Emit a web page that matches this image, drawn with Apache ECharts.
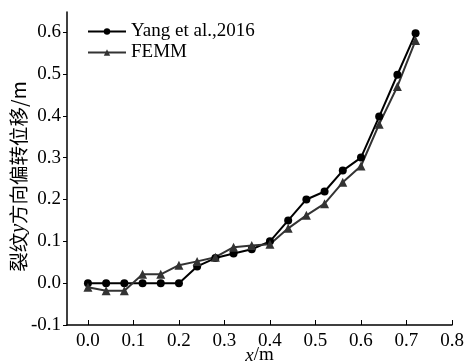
<!DOCTYPE html>
<html><head><meta charset="utf-8">
<script src="https://cdn.jsdelivr.net/npm/echarts@6/dist/echarts.min.js"></script>
<style>html,body{margin:0;padding:0;background:#fff}#c{width:466px;height:364px}</style>
</head><body><div id="c"></div>
<script>
const xValues = [0, 0.04, 0.08, 0.12, 0.16, 0.2, 0.24, 0.28, 0.32, 0.36, 0.4, 0.44, 0.48, 0.52, 0.56, 0.6, 0.64, 0.68, 0.72];
const yangValues = [0, 0, 0, 0, 0, 0, 0.04, 0.06, 0.071, 0.081, 0.1, 0.15, 0.2, 0.219, 0.269, 0.3, 0.398, 0.498, 0.597];
const femmValues = [-0.01, -0.018, -0.018, 0.021, 0.021, 0.043, 0.052, 0.062, 0.086, 0.09, 0.093, 0.131, 0.162, 0.19, 0.241, 0.28, 0.38, 0.47, 0.58];
const xTicks = [0, 0.1, 0.2, 0.3, 0.4, 0.5, 0.6, 0.7, 0.8];
const yTicks = [-0.1, 0, 0.1, 0.2, 0.3, 0.4, 0.5, 0.6];
const seriesNames = ['Yang et al.,2016', 'FEMM'];

const serif = 'Liberation Serif';
const chart = echarts.init(document.getElementById('c'));
chart.setOption({
  animation: false,
  grid: {left: 67, right: 14, top: 12, bottom: 39, containLabel: false, outerBoundsMode: 'none'},
  legend: {
    orient: 'vertical', left: 82, top: 17, itemWidth: 38, itemHeight: 8, itemGap: 2,
    textStyle: {fontFamily: serif, fontSize: 19, color: '#000'},
    data: seriesNames
  },
  xAxis: {
    type: 'value', min: -0.046, max: 0.8,
    name: '{i|x}/m', nameLocation: 'middle', nameGap: 21, nameMoveOverlap: false,
    nameTextStyle: {fontFamily: serif, fontSize: 19, color: '#000',
      rich: {i: {fontStyle: 'italic', fontFamily: serif, fontSize: 19, color: '#000'}}},
    axisLine: {show: true, onZero: false, lineStyle: {color: '#000', width: 1.5}},
    axisTick: {show: true, inside: true, length: 5, customValues: xTicks, lineStyle: {color: '#000'}},
    axisLabel: {customValues: xTicks, fontFamily: serif, fontSize: 19, color: '#000', margin: 7,
      formatter: v => v.toFixed(1)},
    splitLine: {show: false}
  },
  yAxis: {
    type: 'value', min: -0.1, max: 0.648,
    name: '裂纹{i|y}方向偏转位移/m', nameLocation: 'middle', nameGap: 38, nameRotate: 90, nameMoveOverlap: false,
    nameTextStyle: {fontFamily: 'Noto Sans CJK SC', fontSize: 19.5, color: '#000', padding: [0, 16, 0, 0],
      rich: {i: {fontStyle: 'italic', fontFamily: serif, fontSize: 20, color: '#000'}}},
    axisLine: {show: true, onZero: false, lineStyle: {color: '#000', width: 1.5}},
    axisTick: {show: true, inside: false, length: 4, customValues: yTicks, lineStyle: {color: '#000'}},
    axisLabel: {customValues: yTicks, fontFamily: serif, fontSize: 19, color: '#000', margin: 6,
      formatter: v => v.toFixed(1)},
    splitLine: {show: false}
  },
  series: [
    {
      name: seriesNames[0], type: 'line', symbol: 'circle', symbolSize: 8,
      itemStyle: {color: '#000'}, lineStyle: {color: '#000', width: 2},
      data: xValues.map((x, i) => [x, yangValues[i]])
    },
    {
      name: seriesNames[1], type: 'line', symbol: 'triangle', symbolSize: 9,
      itemStyle: {color: '#333'}, lineStyle: {color: '#333', width: 2},
      data: xValues.map((x, i) => [x, femmValues[i]])
    }
  ]
});
</script></body></html>
